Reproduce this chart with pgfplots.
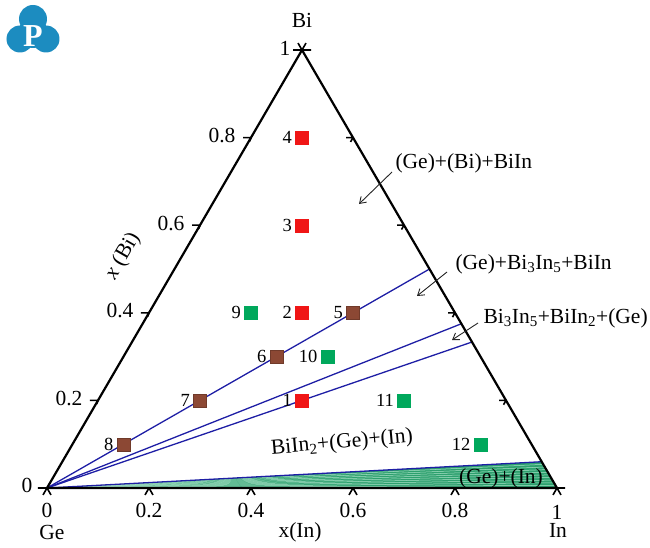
\documentclass[border=0pt]{standalone}
\usepackage{fontspec}
\setmainfont{Liberation Serif}
\usepackage{pgfplots}
\pgfplotsset{compat=1.18}
\usepackage{pgfplotstable}
\usetikzlibrary{arrows.meta}

\definecolor{tieblue}{RGB}{30,30,165}
\definecolor{ptred}{RGB}{240,22,22}
\definecolor{ptbrown}{RGB}{140,72,52}
\definecolor{ptgreen}{RGB}{0,168,92}
\definecolor{wedge}{RGB}{45,160,110}
\definecolor{hatch}{RGB}{170,225,200}
\definecolor{logoblue}{RGB}{28,140,192}

% ternary data: In = x(In), Bi = x(Bi)
\pgfplotstableread{
In  Bi  lab
0.4 0.2 1
0.3 0.4 2
0.2 0.6 3
0.1 0.8 4
}\redpts
\pgfplotstableread{
In  Bi  lab
0.4 0.4 5
0.3 0.3 6
0.2 0.2 7
0.1 0.1 8
}\brownpts
\pgfplotstableread{
In  Bi  lab
0.2 0.4 9
0.4 0.3 10
0.6 0.2 11
0.8 0.1 12
}\greenpts

\pgfplotsset{table/tern/.style={row sep=\\,
  x expr=\thisrow{In}+0.5*\thisrow{Bi}, y expr=0.8660254*\thisrow{Bi}}}

\begin{document}
\begin{tikzpicture}[font=\fontsize{21.5}{25}\selectfont]
\path[use as bounding box] (-47pt,-59pt) rectangle (603pt,488pt);
\begin{axis}[
  at={(0pt,0pt)}, anchor=south west,
  scale only axis, width=510pt, height=438pt,
  xmin=0, xmax=1, ymin=0, ymax=0.8660254,
  hide axis, clip=false,
  pts/.style={only marks, mark=square*, mark size=6.5pt,
    point meta=explicit symbolic, nodes near coords,
    every node near coord/.style={anchor=east, xshift=-6.5pt,
      font=\fontsize{18.5}{20}\selectfont, text=black}},
]
% (Ge)+(In) two-phase wedge
\addplot[fill=wedge, draw=none] table[tern] {In Bi\\ 0 0\\ 1 0\\ 0.94 0.06\\ 0 0\\};
\addplot[hatch, line width=0.5pt] table[tern] {In Bi\\ 0 0\\ 0.994 0.006\\};
\addplot[hatch, line width=0.5pt] table[tern] {In Bi\\ 0 0\\ 0.988 0.012\\};
\addplot[hatch, line width=0.5pt] table[tern] {In Bi\\ 0 0\\ 0.982 0.018\\};
\addplot[hatch, line width=0.5pt] table[tern] {In Bi\\ 0 0\\ 0.976 0.024\\};
\addplot[hatch, line width=0.5pt] table[tern] {In Bi\\ 0 0\\ 0.970 0.030\\};
\addplot[hatch, line width=0.5pt] table[tern] {In Bi\\ 0 0\\ 0.964 0.036\\};
\addplot[hatch, line width=0.5pt] table[tern] {In Bi\\ 0 0\\ 0.958 0.042\\};
\addplot[hatch, line width=0.5pt] table[tern] {In Bi\\ 0 0\\ 0.952 0.048\\};
\addplot[hatch, line width=0.5pt] table[tern] {In Bi\\ 0 0\\ 0.946 0.054\\};
\addplot[tieblue, line width=1.3pt] table[tern] {In Bi\\ 0 0\\ 0.94 0.06\\};
% tie lines from Ge to BiIn, Bi3In5, BiIn2
\addplot[tieblue, line width=1.3pt] table[tern] {In Bi\\ 0 0\\ 0.5 0.5\\};
\addplot[tieblue, line width=1.3pt] table[tern] {In Bi\\ 0 0\\ 0.625 0.375\\};
\addplot[tieblue, line width=1.3pt] table[tern] {In Bi\\ 0 0\\ 0.6667 0.3333\\};
% triangle
\addplot[black, line width=2.2pt, line join=miter] table[tern] {In Bi\\ 0 0\\ 1 0\\ 0 1\\ 0 0\\};
% alloys
\addplot[pts, mark options={fill=ptred, draw=ptred}] table[x expr=\thisrow{In}+0.5*\thisrow{Bi}, y expr=0.8660254*\thisrow{Bi}, meta=lab] {\redpts};
\addplot[pts, mark options={fill=ptbrown, draw=ptbrown!80!black}] table[x expr=\thisrow{In}+0.5*\thisrow{Bi}, y expr=0.8660254*\thisrow{Bi}, meta=lab] {\brownpts};
\addplot[pts, mark options={fill=ptgreen, draw=ptgreen}] table[x expr=\thisrow{In}+0.5*\thisrow{Bi}, y expr=0.8660254*\thisrow{Bi}, meta=lab] {\greenpts};
\end{axis}

\begin{scope}[x=1pt, y=1pt, tk/.style={black, line width=1.6pt}]
% ticks on bottom, left and right sides
\foreach \v in {0.2,0.4,0.6,0.8} {
  \draw[tk] ({510*\v},0) -- ++(240:8pt) ({510*\v},0) -- ++(300:8pt);
  \node at ({510*\v},-22) {\v};
  \draw[tk] ({255*\v},{438*\v}) -- ++(180:8pt) ({255*\v},{438*\v}) -- ++(250:4pt);
  \node[anchor=east] at ({255*\v-12},{438*\v+2}) {\v};
  \draw[tk] ({510-255*\v},{438*\v}) -- ++(180:7pt) ({510-255*\v},{438*\v}) -- ++(240:5pt);
}
% corner crosses
\draw[tk] (0,0) -- ++(180:9pt) (0,0) -- ++(240:8pt) (0,0) -- ++(300:8pt);
\draw[tk] (510,0) -- ++(0:8pt) (510,0) -- ++(300:8pt) (510,0) -- ++(240:8pt);
\draw[tk] (255,438) -- ++(60:8pt) (255,438) -- ++(120:8pt) (246,438) -- (264,438);
\node at (0,-22) {0};
\node at (510,-24) {1};
\node at (-20,3) {0};
\node at (238,440) {1};
% component and axis labels
\node at (255,468) {Bi};
\node at (5,-44) {Ge};
\node at (511,-42) {In};
\node at (253,-44) {x(In)};
\node[rotate=60] at (76,232) {\textit{x} (Bi)};
% phase-field annotations
\node[anchor=west] at (345,325) {(Ge)+(Bi)+BiIn};
\draw[black!85, line width=0.9pt, -{Straight Barb[length=6pt,width=8pt]}] (345,316) -- (312,284);
\node[anchor=west] at (405,224) {(Ge)+Bi\textsubscript{3}In\textsubscript{5}+BiIn};
\draw[black!85, line width=0.9pt, -{Straight Barb[length=6pt,width=8pt]}] (400,216) -- (370,192);
\node[anchor=west] at (433,170) {Bi\textsubscript{3}In\textsubscript{5}+BiIn\textsubscript{2}+(Ge)};
\draw[black!85, line width=0.9pt, -{Straight Barb[length=6pt,width=8pt]}] (431,165) -- (405,148);
\node[rotate=5] at (295,45) {BiIn\textsubscript{2}+(Ge)+(In)};
\node at (454,10) {(Ge)+(In)};
% logo
\fill[logoblue] (-14,469) circle (14) (-27,449) circle (13.5) (-1,449) circle (13.5) (-14,455) circle (15);
\node[white, font=\bfseries\fontsize{32}{32}\selectfont] at (-14,452) {P};
\end{scope}
\end{tikzpicture}
\end{document}
